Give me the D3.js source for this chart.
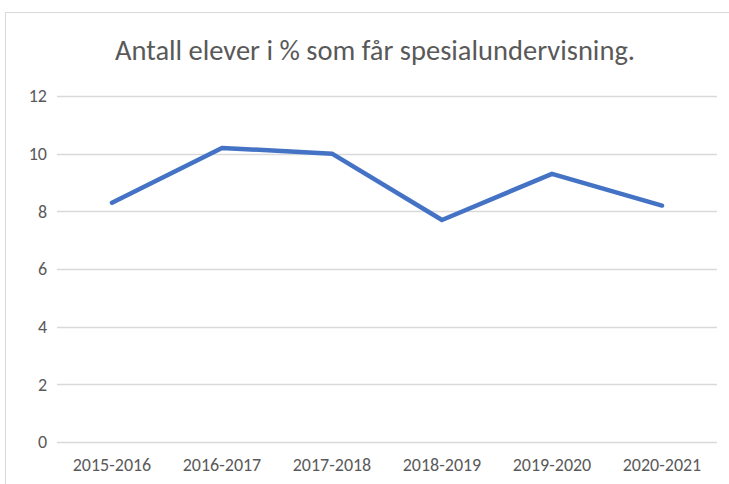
<!DOCTYPE html>
<html>
<head>
<meta charset="utf-8">
<script src="https://cdn.jsdelivr.net/npm/d3@7"></script>
<style>
  body { margin: 0; background: #fff; }
  text { font-family: Carlito, "Liberation Sans Narrow", "Liberation Sans", sans-serif; fill: #595959; }
</style>
</head>
<body>
<div id="chart-container"></div>
<script>
   const categories = ["2015-2016", "2016-2017", "2017-2018", "2018-2019", "2019-2020", "2020-2021"];
   const values = [8.3, 10.2, 10.0, 7.7, 9.3, 8.2];
   const yTicks = [0, 2, 4, 6, 8, 10, 12];
   const title = "Antall elever i % som får spesialundervisning.";

   const margin = { top: 96, right: 12, bottom: 42, left: 57 };
   const width = 729 - margin.left - margin.right;
   const height = 484 - margin.top - margin.bottom;

   const svg = d3.select("#chart-container")
       .append("svg")
       .attr("width", 729)
       .attr("height", 484);

   // outer chart frame (cut off at right and bottom)
   svg.append("rect")
       .attr("x", 5.5)
       .attr("y", 12.5)
       .attr("width", 740)
       .attr("height", 500)
       .attr("fill", "none")
       .attr("stroke", "#d9d9d9")
       .attr("stroke-width", 1);

   svg.append("text")
       .attr("x", 375)
       .attr("y", 60)
       .attr("text-anchor", "middle")
       .style("font-size", "28.5px")
       .style("font-weight", 300)
       .text(title);

   const g = svg.append("g")
       .attr("transform", `translate(${margin.left},${margin.top})`);

   const x = d3.scaleBand()
       .domain(categories)
       .range([0, width]);

   const y = d3.scaleLinear()
       .domain([0, 12])
       .range([height, 0]);

   // gridlines
   g.append("g")
       .selectAll("line")
       .data(yTicks)
       .join("line")
       .attr("x1", 0)
       .attr("x2", width)
       .attr("y1", d => Math.round(y(d)) + 0.5)
       .attr("y2", d => Math.round(y(d)) + 0.5)
       .attr("stroke", "#d9d9d9")
       .attr("stroke-width", 1.3);

   const yAxis = g.append("g")
       .call(d3.axisLeft(y).tickValues(yTicks).tickSize(0).tickPadding(10));
   yAxis.select(".domain").remove();
   yAxis.selectAll("text").style("font-size", "18px");

   const xAxis = g.append("g")
       .attr("transform", `translate(0,${height})`)
       .call(d3.axisBottom(x).tickSize(0).tickPadding(16));
   xAxis.select(".domain").remove();
   xAxis.selectAll("text").style("font-size", "18px");

   const line = d3.line()
       .x((d, i) => x(categories[i]) + x.bandwidth() / 2)
       .y(d => y(d));

   g.append("path")
       .datum(values)
       .attr("fill", "none")
       .attr("stroke", "#4472c4")
       .attr("stroke-width", 4.5)
       .attr("stroke-linecap", "round")
       .attr("stroke-linejoin", "round")
       .attr("d", line);
</script>
</body>
</html>
